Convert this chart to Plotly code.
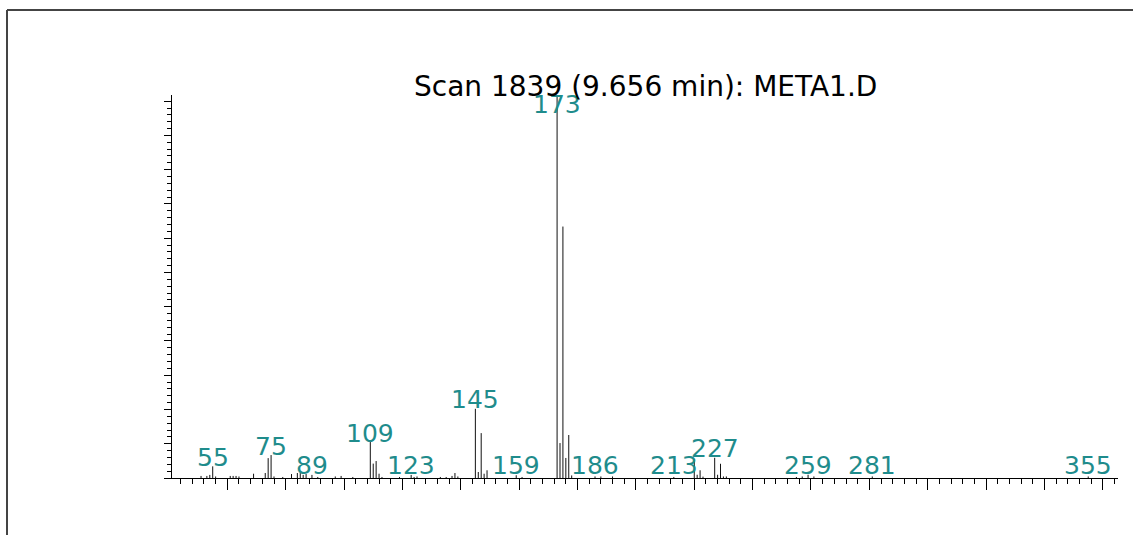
import plotly.graph_objects as go

# ---- data (m/z vs abundance) ----
mz = [51, 53, 54, 55, 56, 61, 62, 63, 64, 69, 73, 74, 75, 76, 79, 82, 84, 85, 86, 87,
      89, 91, 97, 99, 103, 109, 110, 111, 112, 113, 119, 123, 124, 125, 133, 135, 137,
      138, 139, 145, 146, 147, 148, 149, 159, 161, 173, 174, 175, 176, 177, 178, 186,
      188, 192, 213, 220, 221, 222, 223, 227, 228, 229, 230, 231, 255, 257, 259, 261,
      281, 355]
abundance = [600, 600, 900, 3400, 450, 600, 600, 600, 450, 1250, 1450, 5800, 6700, 450,
             300, 1150, 1450, 1450, 900, 1150, 900, 300, 450, 600, 300, 10500, 4200, 4950,
             1250, 300, 300, 900, 300, 450, 300, 300, 600, 1450, 450, 20200, 1750, 13100,
             1250, 2250, 800, 300, 111800, 10200, 73400, 5850, 12550, 750, 450, 450, 450,
             300, 5350, 950, 2250, 400, 5900, 950, 4150, 450, 450, 300, 450, 950, 450,
             450, 450]
labeled_mz = [55, 75, 89, 109, 123, 145, 159, 173, 186, 213, 227, 259, 281, 355]
title_text = "Scan 1839 (9.656 min): META1.D"

# ---- figure geometry ----
W, H = 1133, 535
ML, MR, MT, MB = 172, 15, 95, 56.5
plot_w = W - ML - MR
plot_h = H - MT - MB
x_range = [41.05, 365.2]
y_max = max(abundance)
y_range = [0, y_max]
units_per_px = y_max / plot_h

# stick spectrum as one line trace
xs, ys = [], []
for m, a in zip(mz, abundance):
    xs += [m, m, None]
    ys += [0, a, None]

fig = go.Figure()
fig.add_trace(go.Scatter(x=xs, y=ys, mode="lines",
                         line=dict(color="#111111", width=1),
                         hoverinfo="skip", showlegend=False))

teal = "#1f8c8c"
ab_map = dict(zip(mz, abundance))
for m in labeled_mz:
    a = ab_map[m]
    ylab = min(max(a, 3.5 * units_per_px), y_max - 19 * units_per_px)
    fig.add_annotation(x=m, y=ylab, xref="x", yref="y", text=str(m),
                       showarrow=False, xanchor="center", yanchor="middle",
                       yshift=9, font=dict(family="DejaVu Sans", size=25, color=teal))

fig.add_annotation(x=0.5, y=1, xref="paper", yref="paper", text=title_text,
                   showarrow=False, xanchor="center", yanchor="middle", yshift=9,
                   font=dict(family="DejaVu Sans", size=28, color="#000000"))

# outer frame (top and left edges)
def px_to_paper_x(px):
    return (px - ML) / plot_w

def py_to_paper_y(py):
    return (H - MB - py) / plot_h

fig.add_shape(type="line", xref="paper", yref="paper",
              x0=px_to_paper_x(7), x1=px_to_paper_x(1160),
              y0=py_to_paper_y(10), y1=py_to_paper_y(10),
              line=dict(color="#444444", width=2))
fig.add_shape(type="line", xref="paper", yref="paper",
              x0=px_to_paper_x(7), x1=px_to_paper_x(7),
              y0=py_to_paper_y(10), y1=py_to_paper_y(560),
              line=dict(color="#444444", width=2))

fig.update_layout(
    width=W, height=H,
    margin=dict(l=ML, r=MR, t=MT, b=MB, pad=0),
    paper_bgcolor="white", plot_bgcolor="white",
    showlegend=False,
    xaxis=dict(range=x_range, showgrid=False, zeroline=False, showline=True,
               linecolor="#000000", linewidth=1, ticks="outside", ticklen=11,
               tickcolor="#000000", tickwidth=1, tick0=0, dtick=20,
               showticklabels=False,
               minor=dict(ticks="outside", ticklen=5, tickcolor="#000000",
                          tickwidth=1, dtick=4, tick0=0, showgrid=False)),
    yaxis=dict(range=y_range, showgrid=False, zeroline=False, showline=True,
               linecolor="#000000", linewidth=1, ticks="outside", ticklen=7,
               tickcolor="#000000", tickwidth=1, tick0=0, dtick=10000,
               showticklabels=False,
               minor=dict(ticks="outside", ticklen=4, tickcolor="#000000",
                          tickwidth=1, dtick=2000, tick0=0, showgrid=False)),
)

fig.write_html("out.html", config={"displayModeBar": False},
               post_script="document.body.style.margin='0';document.body.style.overflow='hidden';")
